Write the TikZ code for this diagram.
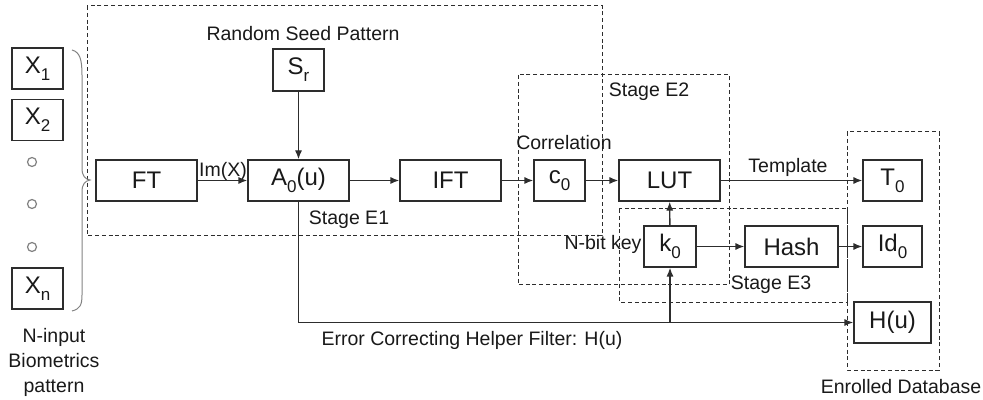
\documentclass[tikz,border=0pt]{standalone}
\usepackage{fontspec}
\setmainfont{Liberation Sans}
\usetikzlibrary{arrows.meta}
\definecolor{linec}{RGB}{45,45,45}
\definecolor{txt}{RGB}{25,25,25}
\definecolor{bracec}{RGB}{130,130,130}
\newcommand\lowsub[1]{\raisebox{-0.55ex}{\fontsize{8.5}{9}\selectfont #1}}
\begin{document}
\begin{tikzpicture}[x=0.5pt,y=-0.5pt,
  box/.style={draw=linec, line width=0.7pt, minimum height=20.5pt, inner sep=0pt,
    font=\fontsize{12}{14}\selectfont, text=txt},
  lbl/.style={font=\fontsize{9.75}{11.5}\selectfont, text=txt, inner sep=0pt},
  stagebox/.style={draw=linec, dash pattern=on 2pt off 1.4pt, line width=0.5pt},
  conn/.style={draw=linec, line width=0.7pt, -{Latex[length=4.5pt,width=3.6pt]}},
  plain/.style={draw=linec, line width=0.7pt},
  dot/.style={circle, draw=bracec, line width=0.6pt, minimum size=4.5pt, inner sep=0pt}]
\useasboundingbox (0,0) rectangle (983,400);
% stage boxes
\draw[stagebox] (87,6) rectangle (602,236);
\draw[stagebox] (518,75) rectangle (729,285);
\draw[stagebox] (619,209) rectangle (847,302);
\draw[stagebox] (847,132) rectangle (939,370);
% inputs
\node[box, minimum width=25.5pt] (x1) at (37.5,68.5) {X\lowsub{1}};
\node[box, minimum width=25.5pt] (x2) at (37.5,120) {X\lowsub{2}};
\node[dot] (d1) at (32,162) {};
\node[dot] (d2) at (32,204) {};
\node[dot] (d3) at (32,247) {};
\node[box, minimum width=25.5pt] (xn) at (37.5,288.5) {X\lowsub{n}};
\draw[bracec, line width=0.5pt] (72,50) .. controls (80,52) and (82,60) .. (82,75) -- (82,168)
  .. controls (82,176) and (85,179) .. (90,180) .. controls (85,181) and (82,184) .. (82,192)
  -- (82,295) .. controls (82,305) and (80,309) .. (72,311);
\node[lbl, align=center] (inlbl) at (54,362) {N-input\\[1pt]Biometrics\\[1pt]pattern};
% main row
\node[box, minimum width=50.5pt] (ft) at (146.5,180.5) {FT};
\node[box, minimum width=50.5pt] (a0) at (298.5,180.5) {A\lowsub{0}(u)};
\node[box, minimum width=50.5pt] (ift) at (450.5,180.5) {IFT};
\node[box, minimum width=25.5pt] (c0) at (559.5,180.5) {c\lowsub{0}};
\node[box, minimum width=50.5pt] (lut) at (669.5,180.5) {LUT};
\node[box, minimum width=29.5pt] (t0) at (892.5,180.5) {T\lowsub{0}};
\node[box, minimum width=25.5pt, minimum height=21pt] (sr) at (298.5,70) {S\lowsub{r}};
\node[box, minimum width=26pt] (k0) at (670,246.5) {k\lowsub{0}};
\node[box, minimum width=46.5pt] (hash) at (791.5,246.5) {Hash};
\node[box, minimum width=29.5pt] (id0) at (892.5,246.5) {Id\lowsub{0}};
\node[box, minimum width=38.5pt] (hu) at (892.5,322.5) {H(u)};
% labels
\node[lbl] (rsp) at (303,34) {Random Seed Pattern};
\node[lbl] (imx) at (223,171) {Im(X)};
\node[lbl] (se1) at (349,220) {Stage E1};
\node[lbl] (corr) at (564,143) {Correlation};
\node[lbl] (se2) at (649,92) {Stage E2};
\node[lbl] (tmpl) at (788,167) {Template};
\node[lbl] (nbk) at (603,244) {N-bit key};
\node[lbl] (se3) at (771,285) {Stage E3};
\node[lbl] (ech) at (472,340) {Error Correcting Helper Filter: H(u)};
\node[lbl] (edb) at (901,387) {Enrolled Database};
% connectors
\draw[conn] (ft) -- (a0);
\draw[conn] (a0) -- (ift);
\draw[conn] (ift) -- (c0);
\draw[conn] (c0) -- (lut);
\draw[conn] (lut) -- (t0);
\draw[conn] (sr) -- (a0);
\draw[conn] (k0) -- (lut);
\draw[conn] (k0) -- (hash);
\draw[conn] (hash) -- (id0);
\draw[conn] (a0.south) |- (hu.west);
\coordinate (br) at (k0.south |- hu.west);
\draw[conn] (br) -- (k0.south);
\end{tikzpicture}
\end{document}
